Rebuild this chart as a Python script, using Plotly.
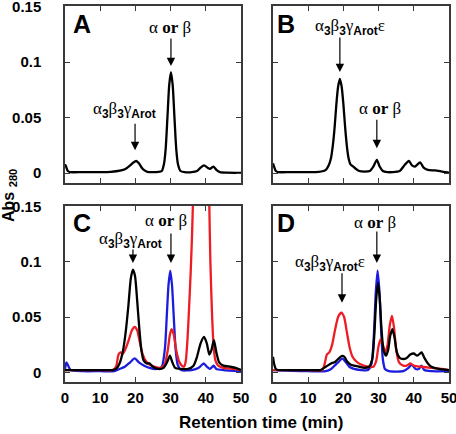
import plotly.graph_objects as go

# ---------------- data (retention time in min, absorbance) ----------------
a_t = [0, 0.3, 0.8, 1.5, 5, 10, 13, 15, 16.5, 17.5, 18.5, 19.4, 20.2, 21.0, 21.8, 22.6, 23.4, 25, 26.5, 27.5,
       28.1, 28.6, 29.1, 29.6, 30.1, 30.6, 31.1, 31.6, 32.1, 32.8, 34, 36, 37.5, 38.5, 39.5, 40.5, 41.2, 42.2, 43,
       44, 46, 50]
a_k = [0.008, 0.006, 0.002, 0.001, 0.001, 0.001, 0.0012, 0.002, 0.003, 0.0045, 0.007, 0.0095, 0.011, 0.009,
       0.005, 0.0025, 0.0012, 0.001, 0.0012, 0.002, 0.008, 0.022, 0.05, 0.079, 0.091, 0.079, 0.05, 0.022, 0.008,
       0.002, 0.001, 0.001, 0.002, 0.005, 0.007, 0.005, 0.004, 0.006, 0.003, 0.001, 0.0005, 0.0003]

b_t = [0, 0.3, 0.8, 1.5, 5, 10, 13, 14.3, 15, 15.8, 16.5, 17, 17.5, 18, 18.5, 19, 19.5, 20, 20.5, 21, 21.5, 22,
       22.8, 23.5, 24.5, 26, 27.5, 28.5, 29.5, 30.3, 31.2, 32.5, 34, 36, 37.3, 38.6, 39.5, 40.3, 41.8, 42.8, 44,
       46, 48, 50]
b_k = [0.009, 0.006, 0.002, 0.001, 0.001, 0.001, 0.0012, 0.002, 0.003, 0.007, 0.014, 0.025, 0.041, 0.062, 0.078,
       0.085, 0.078, 0.062, 0.041, 0.024, 0.013, 0.008, 0.006, 0.004, 0.002, 0.0015, 0.002, 0.006, 0.012, 0.006,
       0.002, 0.001, 0.001, 0.002, 0.007, 0.011, 0.007, 0.006, 0.0097, 0.005, 0.003, 0.0025, 0.0015, 0.0005]

c_t_k = [0, 5, 10, 13.5, 14.5, 15.5, 16.5, 17.3, 18, 18.7, 19.3, 19.9, 20.5, 21.1, 21.7, 22.3, 23.2, 24, 25, 26.5,
         28, 29, 29.8, 30.5, 31.3, 33, 35, 36.5, 37.5, 38.5, 39.5, 40.3, 41, 41.6, 42.3, 43, 43.8, 45, 47, 48.5, 50]
c_k = [0.002, 0.002, 0.002, 0.002, 0.003, 0.008, 0.02, 0.038, 0.06, 0.085, 0.093, 0.087, 0.065, 0.04, 0.02, 0.011,
       0.008, 0.008, 0.005, 0.003, 0.004, 0.009, 0.015, 0.009, 0.004, 0.003, 0.003, 0.006, 0.014, 0.026, 0.032,
       0.026, 0.016, 0.02, 0.029, 0.018, 0.009, 0.006, 0.005, 0.004, 0.002]

c_t_r = [0, 5, 10, 13.5, 14.5, 15.2, 15.8, 16.5, 17.3, 18.2, 19, 19.8, 20.5, 21.2, 22, 23, 24, 25.5, 27, 28.3,
         29.2, 29.8, 30.3, 30.9, 31.6, 32.4, 33.2, 33.8, 34.3, 34.8, 35.2, 35.7, 36.1, 36.4, 37, 38, 39, 40, 40.5,
         41, 41.3, 41.8, 42.3, 42.8, 43.5, 45, 48, 50]
c_r = [0.002, 0.002, 0.002, 0.002, 0.005, 0.016, 0.018, 0.017, 0.022, 0.03, 0.038, 0.041, 0.038, 0.028, 0.017,
       0.01, 0.007, 0.005, 0.004, 0.007, 0.02, 0.034, 0.039, 0.034, 0.02, 0.01, 0.006, 0.005, 0.01, 0.03, 0.055,
       0.09, 0.125, 0.16, 0.24, 0.31, 0.33, 0.29, 0.24, 0.15, 0.1, 0.05, 0.02, 0.01, 0.006, 0.004, 0.003, 0.002]

c_t_b = [0, 0.4, 0.9, 1.6, 5, 10, 14, 15.5, 17, 18.5, 19.8, 21, 22.5, 24, 26, 27.5, 28.4, 28.9, 29.4, 29.9, 30.4,
         30.9, 31.4, 32, 33, 36, 38, 39.4, 40.3, 41.2, 42.2, 43, 45, 50]
c_b = [0.003, 0.009, 0.006, 0.002, 0.001, 0.001, 0.001, 0.003, 0.005, 0.009, 0.0125, 0.009, 0.006, 0.004, 0.003,
       0.005, 0.022, 0.05, 0.079, 0.092, 0.079, 0.05, 0.022, 0.007, 0.002, 0.002, 0.004, 0.008, 0.005, 0.003,
       0.006, 0.003, 0.002, 0.001]

d_t_k = [0, 0.3, 0.8, 1.5, 5, 10, 13.5, 14.5, 15.5, 16.5, 17.5, 18.5, 19.5, 20.3, 21, 22, 23, 24.5, 26, 27.3, 28.2,
         28.8, 29.3, 29.8, 30.3, 30.8, 31.4, 32.1, 32.7, 33.3, 33.9, 34.5, 35.2, 36, 37, 38, 39, 40, 41, 42.2, 43,
         44, 45, 47, 50]
d_k = [0.014, 0.008, 0.003, 0.002, 0.002, 0.002, 0.002, 0.004, 0.006, 0.008, 0.009, 0.012, 0.0147, 0.014, 0.01,
       0.007, 0.006, 0.005, 0.004, 0.005, 0.012, 0.035, 0.065, 0.081, 0.068, 0.04, 0.02, 0.015, 0.02, 0.033, 0.039,
       0.032, 0.018, 0.013, 0.012, 0.013, 0.016, 0.017, 0.015, 0.018, 0.013, 0.008, 0.005, 0.003, 0.002]

d_t_r = [0, 10, 14, 14.7, 15.3, 16, 16.8, 17.6, 18.5, 19.4, 20.2, 21, 21.8, 22.6, 23.6, 25, 27, 28.5, 29.3, 30,
         30.6, 31.2, 31.9, 32.5, 33.2, 33.8, 34.4, 35, 35.8, 37, 38, 39, 40, 42, 45, 48, 50]
d_r = [0.002, 0.002, 0.002, 0.008, 0.016, 0.018, 0.025, 0.038, 0.05, 0.054, 0.05, 0.036, 0.022, 0.014, 0.01,
       0.007, 0.005, 0.005, 0.01, 0.024, 0.03, 0.025, 0.018, 0.024, 0.043, 0.051, 0.04, 0.02, 0.009, 0.006, 0.006,
       0.008, 0.006, 0.005, 0.004, 0.003, 0.002]

d_t_b = [0, 10, 15, 16.5, 17.5, 18.5, 19.7, 20.7, 21.7, 23, 25, 27, 28, 28.6, 29.2, 29.7, 30.2, 30.7, 31.2, 31.8,
         33, 37, 38.5, 39.4, 40.5, 41.4, 42.2, 43, 45, 50]
d_b = [0.002, 0.001, 0.001, 0.003, 0.006, 0.009, 0.0123, 0.009, 0.005, 0.003, 0.002, 0.002, 0.008, 0.03, 0.072,
       0.092, 0.075, 0.04, 0.012, 0.003, 0.001, 0.001, 0.004, 0.007, 0.003, 0.003, 0.006, 0.002, 0.001, 0.001]

x_ticks = [0, 10, 20, 30, 40, 50]
y_ticks = [0, 0.05, 0.1, 0.15]
y_ticktext = ["0", "0.05", "0.1", "0.15"]

BLACK = "#000000"
RED = "#EE1C24"
BLUE = "#1C1CDC"
FRAME = "#3a3a3a"

fig = go.Figure()

def add_line(t, v, color, xa, ya):
    fig.add_trace(go.Scatter(x=t, y=v, mode="lines", xaxis=xa, yaxis=ya,
                             line=dict(color=color, width=2.3, shape="spline", smoothing=0.6),
                             showlegend=False, hoverinfo="skip", cliponaxis=True))

add_line(a_t, a_k, BLACK, "x", "y")
add_line(b_t, b_k, BLACK, "x2", "y2")
add_line(c_t_b, c_b, BLUE, "x3", "y3")
add_line(c_t_r, c_r, RED, "x3", "y3")
add_line(c_t_k, c_k, BLACK, "x3", "y3")
add_line(d_t_b, d_b, BLUE, "x4", "y4")
add_line(d_t_r, d_r, RED, "x4", "y4")
add_line(d_t_k, d_k, BLACK, "x4", "y4")

W, H = 456, 434
dx_left = [65 / W, 241 / W]
dx_right = [273 / W, 449 / W]
dy_top = [1 - 183 / H, 1 - 6 / H]
dy_bot = [1 - 382 / H, 1 - 206 / H]
YR = [-0.0088, 0.1505]

tickfont = dict(family="Arial", size=15, color="black", weight="bold")

def xax(domain, anchor, labels):
    return dict(domain=domain, anchor=anchor, range=[0, 50], tickvals=x_ticks, automargin=False,
                showticklabels=labels, ticks="inside", ticklen=5, tickwidth=1, tickcolor=FRAME,
                mirror="ticks", showline=True, linecolor=FRAME, linewidth=1.5, showgrid=False,
                zeroline=False, tickfont=tickfont, ticklabelstandoff=1, ticklabeloverflow="allow")

def yax(domain, anchor, labels):
    return dict(domain=domain, anchor=anchor, range=YR, tickvals=y_ticks, ticktext=y_ticktext, automargin=False,
                showticklabels=labels, ticks="inside", ticklen=5, tickwidth=1, tickcolor=FRAME,
                mirror="ticks", showline=True, linecolor=FRAME, linewidth=1.5, showgrid=False,
                zeroline=False, tickfont=tickfont, ticklabelstandoff=19, ticklabeloverflow="allow")

fig.update_layout(
    width=W, height=H, margin=dict(l=0, r=0, t=0, b=0, autoexpand=False),
    paper_bgcolor="white", plot_bgcolor="white",
    xaxis=xax(dx_left, "y", False), yaxis=yax(dy_top, "x", True),
    xaxis2=xax(dx_right, "y2", False), yaxis2=yax(dy_top, "x2", False),
    xaxis3=xax(dx_left, "y3", True), yaxis3=yax(dy_bot, "x3", True),
    xaxis4=xax(dx_right, "y4", True), yaxis4=yax(dy_bot, "x4", False),
)

SERIF = "Liberation Serif"
SUB = lambda s: '<sub><span style="font-family:Arial"><b>%s</b></span></sub>' % s
complex_lab = "α" + SUB("3") + "β" + SUB("3") + "γ" + SUB("Arot")
complex_eps = complex_lab + "ε"
alpha_lab = "α <b>or</b> β"

anns = []

def text(xr, yr, x, y, s, size=17, family=SERIF):
    anns.append(dict(xref=xr, yref=yr, x=x, y=y, text=s, showarrow=False, xanchor="center", yanchor="middle",
                     font=dict(family=family, size=size, color="black")))

def arrow(xr, yr, x, y, length):
    anns.append(dict(xref=xr, yref=yr, x=x, y=y, ax=0, ay=-length, text="", showarrow=True,
                     arrowhead=2, arrowsize=1.4, arrowwidth=1.2, arrowcolor="black", standoff=0))

# panel letters
text("x", "y", 4.8, 0.134, "<b>A</b>", 25, "Arial")
text("x2", "y2", 3.7, 0.134, "<b>B</b>", 25, "Arial")
text("x3", "y3", 4.8, 0.1347, "<b>C</b>", 25, "Arial")
text("x4", "y4", 3.7, 0.1347, "<b>D</b>", 25, "Arial")

# panel A
text("x", "y", 29.8, 0.1315, alpha_lab)
arrow("x", "y", 30.1, 0.0964, 29)
text("x", "y", 17.0, 0.0568, complex_lab)
arrow("x", "y", 19.9, 0.0207, 28)

# panel B
text("x2", "y2", 21.9, 0.1315, complex_eps)
arrow("x2", "y2", 19.0, 0.091, 36)
text("x2", "y2", 30.4, 0.0586, alpha_lab)
arrow("x2", "y2", 29.5, 0.0225, 30)

# panel C
text("x3", "y3", 28.7, 0.137, alpha_lab)
arrow("x3", "y3", 30.1, 0.099, 31)
text("x3", "y3", 18.5, 0.12, complex_lab)
arrow("x3", "y3", 19.3, 0.099, 15)

# panel D
text("x4", "y4", 29.0, 0.136, alpha_lab)
arrow("x4", "y4", 29.5, 0.099, 33)
text("x4", "y4", 16.2, 0.099, complex_eps)
arrow("x4", "y4", 19.6, 0.063, 31)

# axis titles
anns.append(dict(xref="paper", yref="paper", x=9 / W, y=1 - 196 / H, text="<b>Abs <sub>280</sub></b>",
                 textangle=-90, showarrow=False, xanchor="center", yanchor="middle",
                 font=dict(family="Arial", size=16, color="black")))
anns.append(dict(xref="paper", yref="paper", x=261 / W, y=1 - 422 / H, text="<b>Retention time (min)</b>",
                 showarrow=False, xanchor="center", yanchor="middle",
                 font=dict(family="Arial", size=17, color="black")))

fig.update_layout(annotations=anns)
fig.write_html("out.html", config={"displayModeBar": False},
               post_script="document.body.style.margin='0px';")
